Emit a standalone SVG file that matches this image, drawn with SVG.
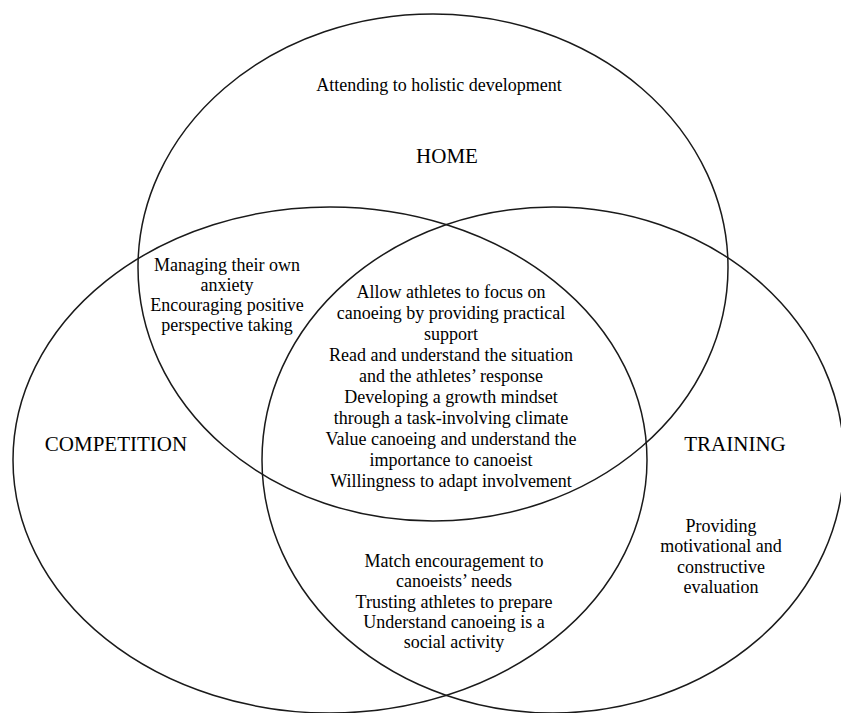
<svg xmlns="http://www.w3.org/2000/svg" width="841" height="713" viewBox="0 0 841 713">
<style>
.set{fill:none;stroke:#1a1a1a;stroke-width:1.5}
text{font-family:"Liberation Serif","Times New Roman",serif;fill:#000;text-anchor:middle}
.item{font-size:18px}
.label{font-size:21px}
</style>
<rect width="841" height="713" fill="#fff"/>
<g id="home">
<ellipse class="set" cx="433" cy="267.5" rx="295" ry="253.5"/>
<text class="label" x="447" y="163">HOME</text>
</g>
<g id="competition">
<ellipse class="set" cx="330" cy="460" rx="317" ry="253"/>
<text class="label" x="116" y="451">COMPETITION</text>
</g>
<g id="training">
<ellipse class="set" cx="553" cy="460" rx="291" ry="253"/>
<text class="label" x="735" y="451">TRAINING</text>
</g>
<g id="home-only" class="item">
<text x="439" y="91">Attending to holistic development</text>
</g>
<g id="home-competition" class="item">
<text x="227" y="270.5">Managing their own</text>
<text x="227" y="290.5">anxiety</text>
<text x="227" y="311">Encouraging positive</text>
<text x="227" y="331">perspective taking</text>
</g>
<g id="all-three" class="item">
<text x="451" y="298">Allow athletes to focus on</text>
<text x="451" y="319">canoeing by providing practical</text>
<text x="451" y="340">support</text>
<text x="451" y="361">Read and understand the situation</text>
<text x="451" y="382">and the athletes’ response</text>
<text x="451" y="403">Developing a growth mindset</text>
<text x="451" y="424">through a task-involving climate</text>
<text x="451" y="445">Value canoeing and understand the</text>
<text x="451" y="466">importance to canoeist</text>
<text x="451" y="487">Willingness to adapt involvement</text>
</g>
<g id="competition-training" class="item">
<text x="454" y="567">Match encouragement to</text>
<text x="454" y="587">canoeists’ needs</text>
<text x="454" y="607.5">Trusting athletes to prepare</text>
<text x="454" y="627.5">Understand canoeing is a</text>
<text x="454" y="647.5">social activity</text>
</g>
<g id="training-only" class="item">
<text x="721" y="531.5">Providing</text>
<text x="721" y="552">motivational and</text>
<text x="721" y="572.5">constructive</text>
<text x="721" y="593">evaluation</text>
</g>
</svg>
